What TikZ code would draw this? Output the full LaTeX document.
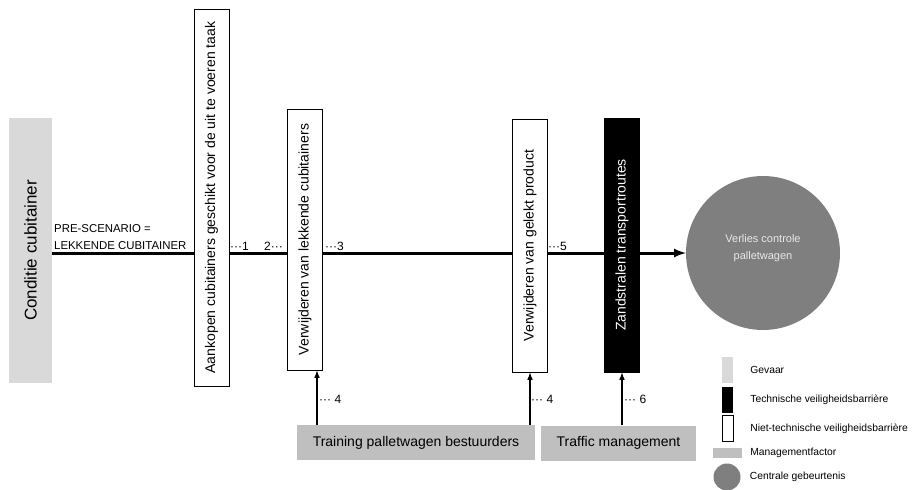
\documentclass[tikz,border=0pt]{standalone}
\usepackage{fontspec}
\setmainfont{Liberation Sans}
\usetikzlibrary{positioning,backgrounds}
\definecolor{gevaar}{HTML}{D9D9D9}
\definecolor{mgmtgray}{HTML}{BFBFBF}
\definecolor{centralgray}{HTML}{7F7F7F}
\definecolor{centraltext}{HTML}{E8E8E8}

\begin{document}
\begin{tikzpicture}[x=1pt, y=-1pt]
      \tikzstyle{hazard}=[rectangle, fill=gevaar, minimum width=43pt, minimum height=265pt, inner sep=0pt]
      \tikzstyle{ntbarrier}=[rectangle, draw=black, fill=white, line width=1pt, minimum width=35pt, inner sep=0pt, font=\fontsize{14}{16}\selectfont]
      \tikzstyle{tbarrier}=[ntbarrier, fill=black, text=white]
      \tikzstyle{central}=[circle, fill=centralgray, text=centraltext, minimum size=154pt, align=center, font=\fontsize{11}{17}\selectfont]
      \tikzstyle{mgmt}=[rectangle, fill=mgmtgray, minimum height=35pt, inner sep=0pt, font=\fontsize{14}{16}\selectfont]
      \tikzstyle{mainline}=[-latex, line width=3pt]
      \tikzstyle{connect}=[-latex, line width=1.5pt]
      \tikzstyle{lbl}=[inner sep=0pt, font=\fontsize{12}{14}\selectfont]
      \tikzstyle{lgbox}=[rectangle, minimum width=11pt, minimum height=26pt, inner sep=0pt]
      \tikzstyle{lgtext}=[inner sep=0pt, anchor=west, font=\fontsize{10.3}{12}\selectfont]

      \useasboundingbox (0,0) rectangle (914,490);

      \node[hazard] (cond) at (30.5,250.5) {\rotatebox{90}{\fontsize{17}{20}\selectfont Conditie cubitainer}};
      \node[ntbarrier, minimum height=377pt] (aankoop) at (211.5,197.5) {\rotatebox{90}{Aankopen cubitainers geschikt voor de uit te voeren taak}};
      \node[ntbarrier, minimum height=261pt] (verwcub) at (305,239.5) {\rotatebox{90}{Verwijderen van lekkende cubitainers}};
      \node[ntbarrier, minimum height=253pt] (verwprod) at (530,245.5) {\rotatebox{90}{Verwijderen van gelekt product}};
      \node[tbarrier, minimum height=254pt] (zand) at (622,245) {\rotatebox{90}{Zandstralen transportroutes}};
      \node[central] (event) at (763,253) {Verlies controle\\palletwagen\\[-6pt]\mbox{}};
      \node[mgmt, minimum width=238pt] (training) at (416,442.5) {Training palletwagen bestuurders};
      \node[mgmt, minimum width=155pt] (traffic) at (618.5,443) {Traffic management};

      \node[lbl, anchor=south west, align=left, font=\fontsize{11.4}{17}\selectfont] (pre) at (54,250) {PRE-SCENARIO =\\LEKKENDE CUBITAINER};
      \node[lbl, anchor=west] (n1) at (230,246) {···1};
      \node[lbl, anchor=east] (n2) at (283,246) {2···};
      \node[lbl, anchor=west] (n3) at (325,246) {···3};
      \node[lbl, anchor=west] (n5) at (548,246) {···5};
      \node[lbl, anchor=west] (n4a) at (319,399) {··· 4};
      \node[lbl, anchor=west] (n4b) at (531,399) {··· 4};
      \node[lbl, anchor=west] (n6) at (624,399) {··· 6};

      \begin{scope}[on background layer]
        \draw[mainline] (cond.east |- event.west) -- (event.west);
      \end{scope}
      \draw[connect] ([xshift=12pt]verwcub.south |- training.north) -- ([xshift=12pt]verwcub.south);
      \draw[connect] (verwprod.south |- training.north) -- (verwprod.south);
      \draw[connect] (zand.south |- traffic.north) -- (zand.south);

      \node[lgbox, fill=gevaar] (lgGevaar) at (727.5,370) {};
      \node[lgbox, fill=black] (lgTech) at (727.5,399.5) {};
      \node[lgbox, draw=black, fill=white] (lgNiet) at (727.5,428.5) {};
      \node[rectangle, fill=mgmtgray, minimum width=29pt, minimum height=10pt, inner sep=0pt] (lgMgmt) at (727.5,453) {};
      \node[circle, fill=centralgray, minimum size=27pt, inner sep=0pt] (lgCentral) at (727,477) {};
      \node[lgtext, right=17pt of lgGevaar] (tGevaar) {Gevaar};
      \node[lgtext, right=17pt of lgTech] (tTech) {Technische veiligheidsbarrière};
      \node[lgtext, right=17pt of lgNiet] (tNiet) {Niet-technische veiligheidsbarrière};
      \node[lgtext, right=8pt of lgMgmt] (tMgmt) {Managementfactor};
      \node[lgtext, right=9pt of lgCentral] (tCentral) {Centrale gebeurtenis};
    \end{tikzpicture}
\end{document}
